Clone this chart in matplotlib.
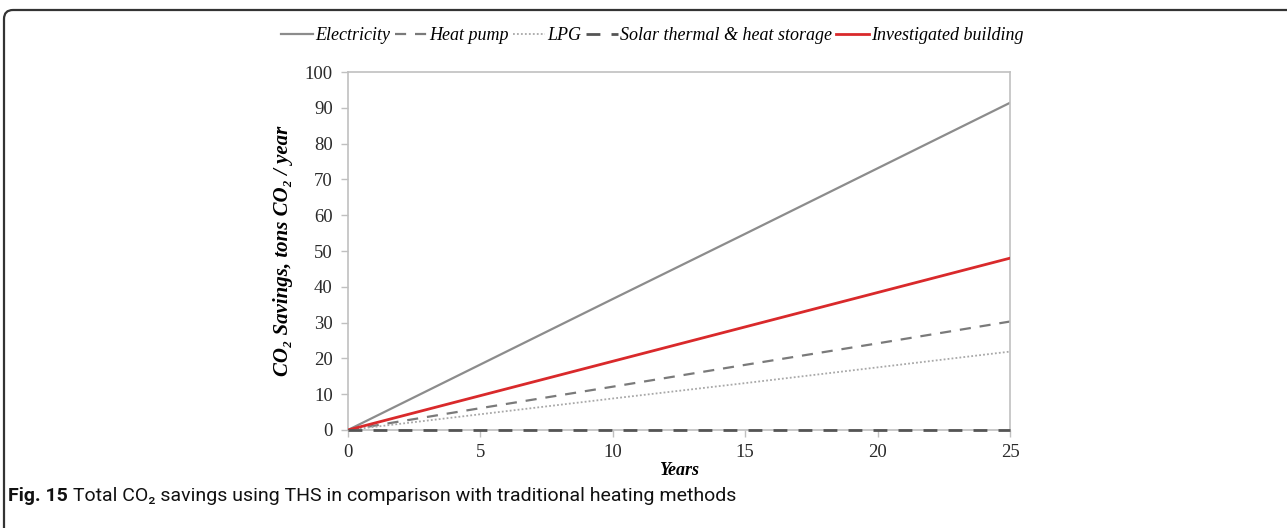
import numpy as np
import matplotlib
matplotlib.use('Agg')
import matplotlib.pyplot as plt
from matplotlib.patches import FancyBboxPatch

# 数据
years = [0, 5, 10, 15, 20, 25]
electricity = [0, 18.3, 36.6, 54.8, 73.1, 91.4]
heat_pump = [0, 6.1, 12.1, 18.2, 24.2, 30.3]
lpg = [0, 4.4, 8.8, 13.1, 17.5, 21.9]
solar = [0, 0, 0, 0, 0, 0]
building = [0, 9.6, 19.2, 28.8, 38.4, 48.0]

x_ticks = [0, 5, 10, 15, 20, 25]
y_ticks = list(range(0, 101, 10))

serif = ['Liberation Serif', 'DejaVu Serif']

fig = plt.figure(figsize=(12.87, 5.28), dpi=100)
ax = fig.add_axes([348/1287, (528-430)/528, 662/1287, 358/528])

l1, = ax.plot(years, electricity, color='#8c8c8c', lw=1.6, label='Electricity')
l2, = ax.plot(years, heat_pump, color='#7a7a7a', lw=1.6, ls=(0, (5, 4)), label='Heat pump')
l3, = ax.plot(years, lpg, color='#a8a8a8', lw=1.3, ls=(0, (1, 1.2)), label='LPG')
l4, = ax.plot(years, solar, color='#555555', lw=2.0, ls=(0, (5, 4)), label='Solar thermal & heat storage',
              clip_on=False, zorder=5)
l5, = ax.plot(years, building, color='#d9292b', lw=2.0, label='Investigated building', zorder=4)

ax.set_xlim(0, 25)
ax.set_ylim(0, 100)
ax.set_xticks(x_ticks)
ax.set_yticks(y_ticks)
for s in ax.spines.values():
    s.set_color('#c0c0c0')
    s.set_linewidth(1.2)
ax.tick_params(direction='out', length=5, color='#c0c0c0', width=1.0, labelsize=13.5,
               labelcolor='#2a2a2a', pad=6)
ax.tick_params(axis='x', pad=5)
for lab in ax.get_xticklabels() + ax.get_yticklabels():
    lab.set_family(serif)

ax.set_xlabel('Years', family=serif, style='italic', weight='bold', fontsize=13, labelpad=1)
ax.set_ylabel('CO₂ Savings, tons CO₂ / year', family=serif, style='italic', weight='bold',
              fontsize=15, labelpad=8)

fig.legend(handles=[l1, l2, l3, l4, l5], loc='center', bbox_to_anchor=(652/1287, 1-36/528),
           ncol=5, frameon=False, handlelength=1.8, handletextpad=0.1, columnspacing=0.25,
           prop={'family': serif, 'style': 'italic', 'size': 13})

# 外框（上边和左边，圆角）
frame = FancyBboxPatch((0.04, -1.0), 14.0, 5.18 + 1.0,
                       boxstyle='round,pad=0,rounding_size=0.09',
                       transform=fig.dpi_scale_trans, fill=False,
                       edgecolor='#333333', lw=1.6, clip_on=False)
fig.add_artist(frame)

# 图注
sans = ['Roboto', 'DejaVu Sans']
t1 = fig.text(8/1287, 1-496/528, 'Fig. 15', family=sans, weight='bold', fontsize=14,
              va='center', ha='left', color='#111111')
fig.canvas.draw()
bb = t1.get_window_extent()
fig.text((bb.x1 + 5)/1287, 1-496/528, 'Total CO₂ savings using THS in comparison with traditional heating methods',
         family=sans, fontsize=14, va='center', ha='left', color='#111111')

fig.savefig('out.png', dpi=100)
